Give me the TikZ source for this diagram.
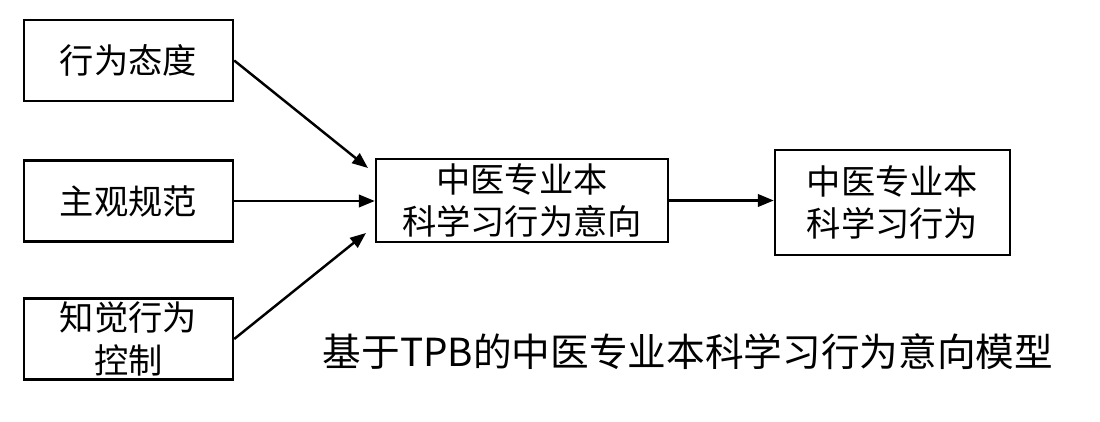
\documentclass[tikz,border=0pt]{standalone}
\usepackage{fontspec}
\setmainfont{Noto Sans CJK SC}
\usetikzlibrary{positioning,calc,arrows.meta}

\begin{document}
\begin{tikzpicture}[x=0.02cm, y=-0.02cm,
		box/.style={draw, line width=1.4pt, align=center, inner sep=0pt, font=\fontsize{19.5pt}{24pt}\selectfont},
		link/.style={line width=1.4pt, -{Triangle[length=9pt, width=7pt]}}]
				\useasboundingbox (0,0) rectangle (1100,422);
				% factors
				\node[box, minimum width=4.18cm, minimum height=1.62cm] (att) at (128.5,60.5) {行为态度};
				\node[box, minimum width=4.18cm, minimum height=1.62cm] (norm) at (128.5,201) {主观规范};
				\node[box, minimum width=4.18cm, minimum height=1.62cm] (pbc) at (128.5,339) {知觉行为\\控制};
				% intention and behaviour
				\node[box, minimum width=5.84cm, minimum height=1.66cm] (intent) at (522,200.5) {中医专业本\\科学习行为意向};
				\node[box, minimum width=4.70cm, minimum height=2.10cm] (behav) at (892.5,202.5) {中医专业本\\科学习行为};
				\coordinate (tip1) at (368,168);
				\coordinate (tip3) at (366,233);
				\draw[link] (att.east) -- (tip1);
				\draw[link] (norm.east) -- (norm.east -| intent.west);
				\draw[link] (pbc.east) -- (tip3);
				\draw[link] (intent.east) -- (intent.east -| behav.west);
				\node[font=\fontsize{22pt}{26pt}\selectfont] (title) at (688,352) {基于TPB的中医专业本科学习行为意向模型};
			\end{tikzpicture}
\end{document}
